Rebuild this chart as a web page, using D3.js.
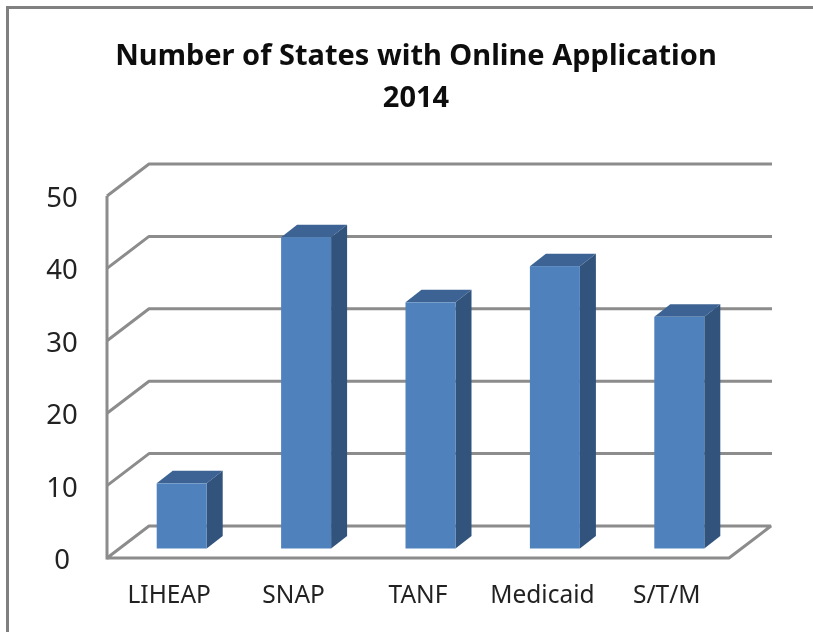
<!DOCTYPE html>
<html><head><meta charset="utf-8">
<style>html,body{margin:0;padding:0;background:#fff}svg{display:block}</style>
<script src="https://cdn.jsdelivr.net/npm/d3@7"></script></head>
<body><svg id="c" width="813" height="632"></svg>
<script>
const categories = ["LIHEAP","SNAP","TANF","Medicaid","S/T/M"];
const values = [9,43,34,39,32];
const yTicks = [0,10,20,30,40,50];
const titleLines = ["Number of States with Online Application","2014"];

const W=813,H=632;
const svg=d3.select("#c");
const font="'Noto Sans','Open Sans',sans-serif";
const depth={x:42,y:-32};
const floor={l:107,r:729,y0:558,y50:196};
const y=d3.scaleLinear().domain([0,50]).range([floor.y0,floor.y50]);
const x0=d3.scaleBand().domain(categories).range([floor.l,floor.r]);
const grey="#8c8c8c";

const defs=svg.append("defs");
defs.append("filter").attr("id","soft").attr("filterUnits","userSpaceOnUse")
  .attr("x",0).attr("y",0).attr("width",W).attr("height",H)
  .append("feGaussianBlur").attr("stdDeviation",0.6);

svg.append("rect").attr("width",W).attr("height",H).attr("fill","#fff");
const root=svg.append("g").attr("filter","url(#soft)");
// chart frame
root.append("path").attr("d",`M7.5,${H+5}V7.5H${W+5}`).attr("fill","none").attr("stroke","#808080").attr("stroke-width",3);

// title
root.append("g").selectAll("text").data(titleLines).join("text")
  .attr("x",416).attr("y",(d,i)=>65+i*42).attr("text-anchor","middle")
  .attr("font-family",font).attr("font-weight",700).attr("font-size",29).attr("fill","#111")
  .text(d=>d);

// walls and gridlines
const grid=root.append("g").attr("fill","none").attr("stroke",grey).attr("stroke-width",3).attr("stroke-linejoin","bevel");
grid.selectAll("path").data(yTicks).join("path")
  .attr("d",d=>d===0
    ? `M${floor.l},${y(0)}L${floor.l+depth.x},${y(0)+depth.y}H${floor.r+depth.x}L${floor.r},${y(0)}H${floor.l}`
    : `M${floor.l},${y(d)}L${floor.l+depth.x},${y(d)+depth.y}H${floor.r+depth.x+1}`);
grid.append("path").attr("d",`M${floor.l},${y(50)}V${y(0)+1.5}`);

// y labels
root.append("g").selectAll("text").data(yTicks).join("text")
  .attr("x",62).attr("y",d=>y(d)+11).attr("text-anchor","middle")
  .attr("font-family",font).attr("font-size",27.5).attr("fill","#222").text(d=>d);

// x labels
root.append("g").selectAll("text").data(categories).join("text")
  .attr("x",d=>x0(d)+x0.bandwidth()/2).attr("y",603).attr("text-anchor","middle")
  .attr("font-family",font).attr("font-size",24.5).attr("fill","#222").text(d=>d);

// 3D bars
const off={x:13,y:-9.5}, bd={x:16,y:-12.5};
const bars=root.append("g").selectAll("g").data(categories.map((c,i)=>({c,v:values[i]}))).join("g");
const bw=50;
const left=d=>x0(d.c)+x0.bandwidth()/2-bw/2+off.x-0.5;
const top_=d=>y(d.v)+off.y;
const base=y(0)+off.y;
bars.append("path").attr("fill","#3d6494")
  .attr("d",d=>`M${left(d)},${top_(d)}l${bd.x},${bd.y}h${bw}l${-bd.x},${-bd.y}z`);
bars.append("path").attr("fill","#31527c")
  .attr("d",d=>`M${left(d)+bw},${top_(d)}l${bd.x},${bd.y}V${base+bd.y}l${-bd.x},${-bd.y}z`);
bars.append("rect").attr("fill","#4f81bd")
  .attr("x",left).attr("y",top_).attr("width",bw).attr("height",d=>base-top_(d));
</script></body></html>
